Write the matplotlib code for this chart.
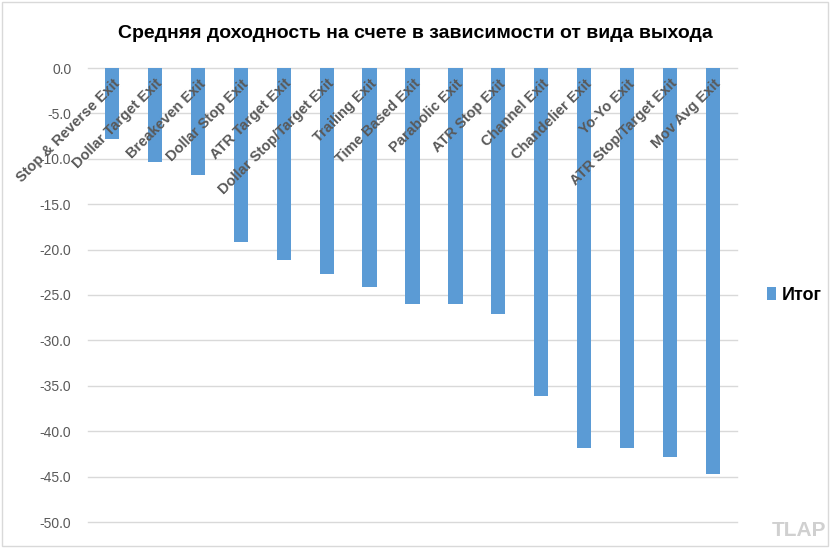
import numpy as np
import matplotlib.pyplot as plt
from matplotlib.patches import Rectangle

exits = ["Stop & Reverse Exit", "Dollar Target Exit", "Breakeven Exit", "Dollar Stop Exit",
         "ATR Target Exit", "Dollar Stop/Target Exit", "Trailing Exit", "Time Based Exit",
         "Parabolic Exit", "ATR Stop Exit", "Channel Exit", "Chandelier Exit",
         "Yo-Yo Exit", "ATR Stop/Target Exit", "Mov Avg Exit"]
values = [-7.8, -10.4, -11.8, -19.2, -21.2, -22.7, -24.1, -26.0,
          -26.0, -27.1, -36.1, -41.9, -41.9, -42.8, -44.7]
yticks = [0, -5, -10, -15, -20, -25, -30, -35, -40, -45, -50]

plt.rcParams['font.family'] = ['Liberation Sans', 'DejaVu Sans']

fig = plt.figure(figsize=(8.3, 5.48), dpi=100)
ax = fig.add_axes([88/830, 1-522/548, (737-88)/830, (522-68)/548])

x = np.arange(len(exits))
ax.bar(x, values, width=0.33, color='#5B9BD5', label='Итог', zorder=3)

ax.set_ylim(-50, 0)
ax.set_xlim(-0.56, len(exits) - 0.44)
ax.set_yticks(yticks)
ax.set_yticklabels([f"{v:.1f}" for v in yticks], color='#595959', fontsize=10)
ax.tick_params(axis='y', length=0, pad=12)
ax.set_xticks([])
ax.grid(axis='y', color='#d9d9d9', linewidth=1, zorder=0)
for g in ax.get_ygridlines():
    g.set_clip_on(False)
for s in ax.spines.values():
    s.set_visible(False)

# rotated category labels sitting at the top of each bar
for xi, name in zip(x, exits):
    ax.text(xi + 0.12, -1.5, name, rotation=45, rotation_mode='anchor',
            ha='right', va='center', fontsize=10.5, fontweight='bold',
            color='#595959', zorder=4)

fig.text(0.5, 1-33/548, "Средняя доходность на счете в зависимости от вида выхода",
         ha='center', va='center', fontsize=14, fontweight='bold', color='black')

leg = ax.legend(loc='center left', bbox_to_anchor=(1.046, 0.5), frameon=False,
                borderaxespad=0, borderpad=0,
                prop={'size': 13, 'weight': 'bold'}, handlelength=0.5,
                handleheight=0.7, handletextpad=0.35)

fig.text(826/830, 1-530/548, "TLAP", ha='right', va='center', fontsize=15,
         fontweight='bold', color='#d0d0d0')

fig.patches.append(Rectangle((0.002, 0.003), 0.995, 0.994, transform=fig.transFigure,
                             fill=False, edgecolor='#d9d9d9', linewidth=1))

fig.savefig('out.png', dpi=100)
